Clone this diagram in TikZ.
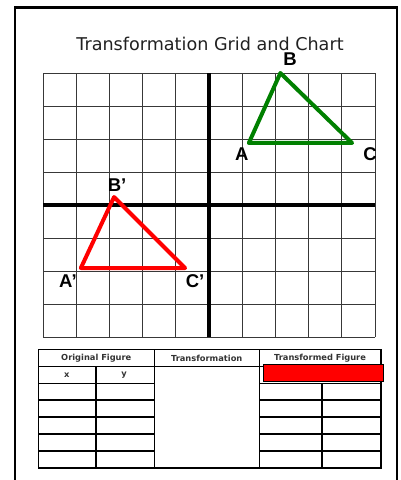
\documentclass[tikz,border=0pt]{standalone}
\usepackage{fontspec}
\setmainfont{Liberation Sans}
\newfontfamily\titlefont{DejaVu Sans}

\begin{document}
\begin{tikzpicture}[x=1pt, y=-1pt,
  gridline/.style={black!78, line width=1pt},
  axisline/.style={black, line width=3.5pt},
  tri/.style={line width=4pt, line join=round},
  vlabel/.style={font=\fontsize{18.5}{18}\selectfont\bfseries, inner sep=0pt},
  head/.style={font=\titlefont\fontsize{8.3}{8}\selectfont\bfseries, text=black!80, inner sep=0pt},
  tabline/.style={black, line width=1.2pt}]
\useasboundingbox (0,0) rectangle (400,480);
% page frame
\draw[line width=2.8pt] (15,495) -- (15,7.5) -- (397,7.5) -- (397,495);

% title
\node[font=\titlefont\fontsize{17.6}{18}\selectfont, text=black!87, anchor=base] (title) at (210,50.7) {Transformation Grid and Chart};

% grid, 10 x 8 squares
\begin{scope}[shift={(43,337)}, x=33.2pt, y=33pt]
\foreach \i in {0,...,10} \draw[gridline] (\i,0) -- (\i,8);
\foreach \j in {0,...,8} \draw[gridline] (0,\j) -- (10,\j);
\draw[axisline] (5,0) -- (5,8);
\draw[axisline] (0,4) -- (10,4);

% original triangle
\coordinate (A) at (6.2,5.88);
\coordinate (B) at (7.15,8);
\coordinate (C) at (9.31,5.88);
\draw[tri, green!50!black] (A) -- (B) -- (C) -- cycle;
\node[vlabel] (lA) at (5.99,5.53) {A};
\node[vlabel] (lB) at (7.44,8.42) {B};
\node[vlabel] (lC) at (9.85,5.55) {C};

% image
\coordinate (A1) at (1.14,2.09);
\coordinate (B1) at (2.14,4.24);
\coordinate (C1) at (4.28,2.09);
\draw[tri, red] (A1) -- (B1) -- (C1) -- cycle;
\node[vlabel] (lA1) at (0.75,1.70) {A’};
\node[vlabel] (lB1) at (2.23,4.59) {B’};
\node[vlabel] (lC1) at (4.58,1.70) {C’};
\end{scope}

% chart
\draw[tabline] (38.5,349.5) rectangle (381,468);
\draw[tabline] (38.5,366.5) -- (381,366.5);
\draw[tabline] (154.5,349.5) -- (154.5,468);
\draw[tabline] (259.5,349.5) -- (259.5,468);
\draw[tabline] (96,366.5) -- (96,468);
\draw[tabline] (322,383.5) -- (322,468);
\foreach \y in {383.5,400,417,434,451} {
  \draw[tabline] (38.5,\y) -- (154.5,\y);
  \draw[tabline] (259.5,\y) -- (381,\y);
}
\draw[fill=red, line width=1pt] (263.5,364.5) rectangle (383,381);

\node[head] (orig) at (96.3,358.3) {Original Figure};
\node[head] (trans) at (206.7,358.3) {Transformation};
\node[head] (image) at (320,358.3) {Transformed Figure};
\node[head] (colx) at (66.7,375.3) {x};
\node[head] (coly) at (124,375.3) {y};
\end{tikzpicture}
\end{document}
